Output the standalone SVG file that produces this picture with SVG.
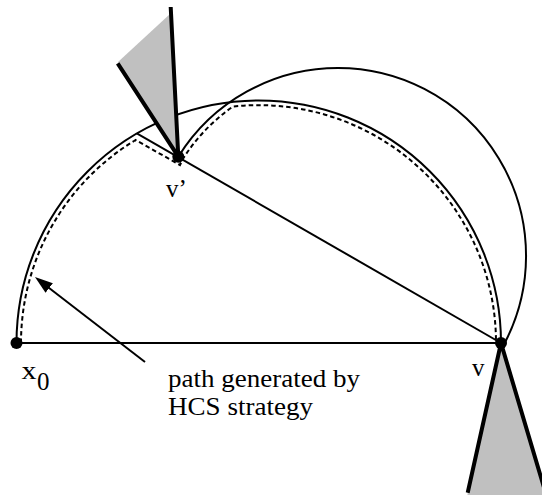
<svg xmlns="http://www.w3.org/2000/svg" width="542" height="495" viewBox="0 0 542 495">
<style>
.thin{fill:none;stroke:#000;stroke-width:2}
.dash{fill:none;stroke:#000;stroke-width:2;stroke-dasharray:4.5 3}
.cone{fill:#c0c0c0;stroke:none}
.edge{stroke:#000;stroke-width:4;fill:none}
.dot{fill:#000}
.lbl{font-family:'Liberation Serif','DejaVu Serif',serif;font-size:25px;fill:#000}
.ann{font-family:'Liberation Serif','DejaVu Serif',serif;font-size:26px;fill:#000}
</style>
<defs>
<marker id="ah" viewBox="0 0 18 12" refX="12" refY="6" markerWidth="18" markerHeight="12" markerUnits="userSpaceOnUse" orient="auto">
<path d="M0,0 L18,6 L0,12 z" fill="#000"/>
</marker>
</defs>
<rect width="542" height="495" fill="#fff"/>
<g id="connectors">
<path id="base-line" class="thin" d="M16.5,343 L501,343"/>
<path id="big-semicircle" class="thin" d="M16.5,343 A242.5,242.5 0 0 1 258.5,100.5 A242.5,242.5 0 0 1 501,343"/>
<path id="chord" class="thin" d="M501,343 L136.8,133.3"/>
<path id="small-semicircle" class="thin" d="M178.3,156.8 A188,188 0 0 1 338,68 A188,188 0 0 1 504.7,343"/>
<path id="hcs-path" class="dash" d="M21,343 A237.5,237.5 0 0 1 135.5,140 L180,165 L182.6,159.4 A183,183 0 0 1 233,106.5 A237.5,237.5 0 0 1 496,343"/>
<path id="pointer" class="thin" d="M145,362 L39.7,280.7" marker-end="url(#ah)"/>
</g>
<g id="node-vprime">
<polygon class="cone" points="178.3,156.7 118,62 170,14"/>
<path class="edge" d="M117.7,63.3 L178.3,156.7 L170.7,7"/>
<circle class="dot" cx="178.3" cy="156.7" r="6"/>
<text class="lbl" x="166" y="197">v’</text>
</g>
<g id="node-v">
<polygon class="cone" points="501,343 467.7,492.7 467,500 548,501"/>
<path class="edge" d="M467.7,492.7 L501,343 L548,501"/>
<circle class="dot" cx="501" cy="343" r="6"/>
<text class="lbl" x="472" y="376">v</text>
</g>
<g id="node-x0">
<circle class="dot" cx="16.5" cy="343" r="6"/>
<text class="lbl" x="21.5" y="379" textLength="15" lengthAdjust="spacingAndGlyphs">x</text>
<text class="lbl" x="37" y="390">0</text>
</g>
<g id="annotation">
<text class="ann" x="168" y="387" textLength="192" lengthAdjust="spacingAndGlyphs">path generated by</text>
<text class="ann" x="168" y="415" textLength="145" lengthAdjust="spacingAndGlyphs">HCS strategy</text>
</g>
</svg>
